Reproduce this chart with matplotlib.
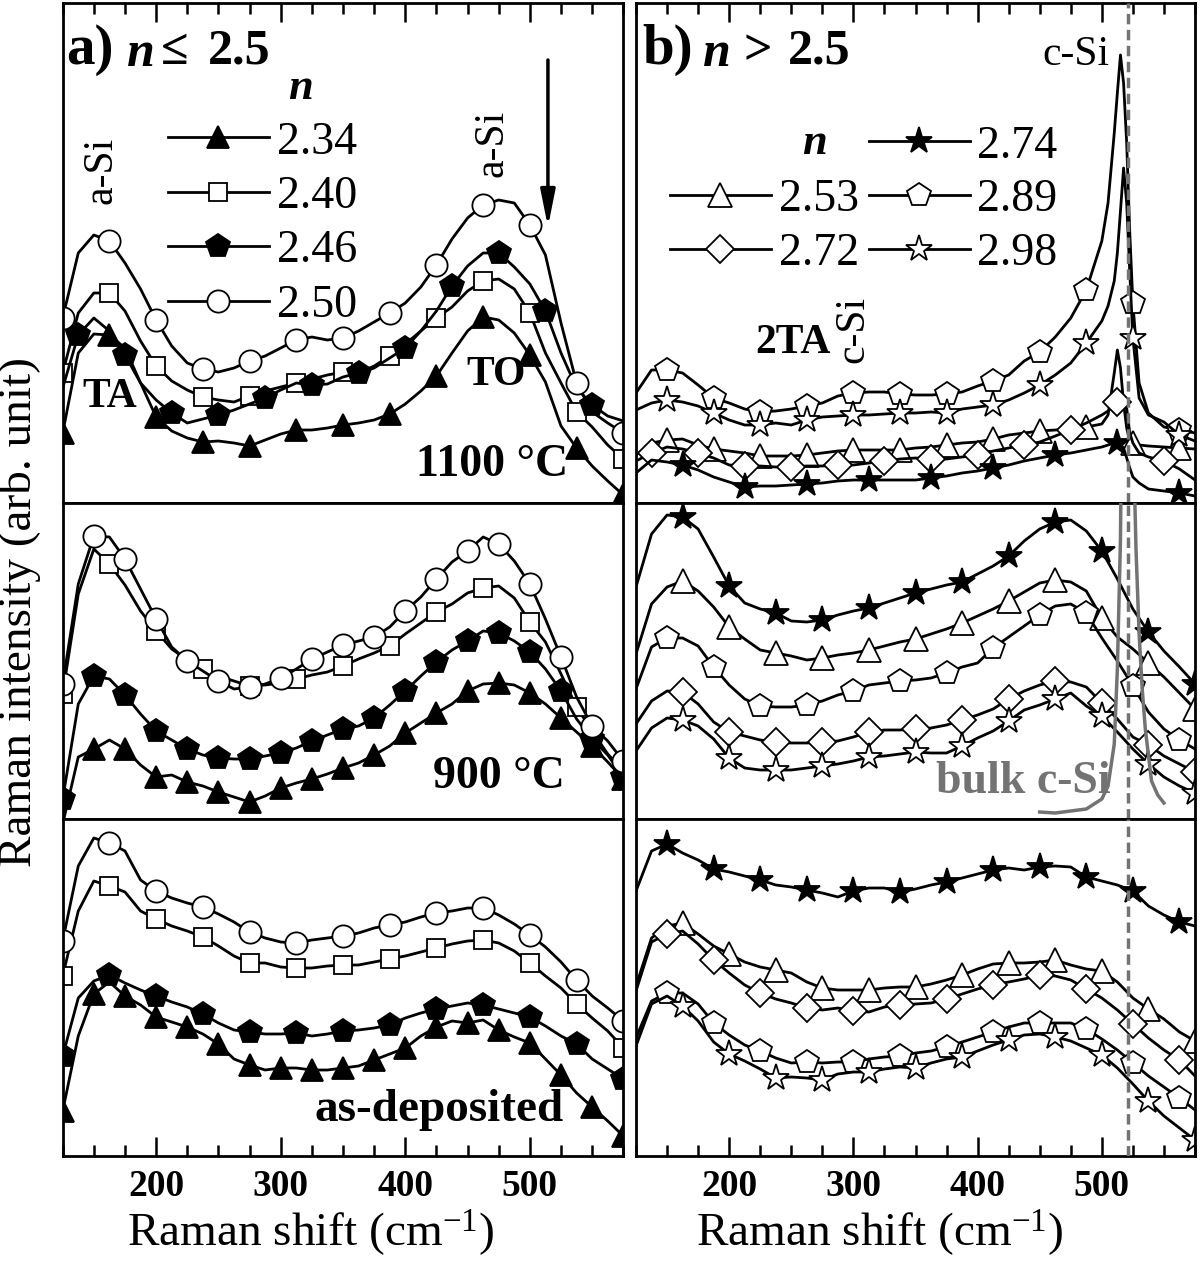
import numpy as np
import matplotlib
matplotlib.use("Agg")
import matplotlib.pyplot as plt
from matplotlib.ticker import MultipleLocator
from matplotlib.lines import Line2D

plt.rcParams['font.family'] = ['Liberation Serif', 'DejaVu Serif']
plt.rcParams['mathtext.fontset'] = 'custom'
plt.rcParams['mathtext.rm'] = 'Liberation Serif'
plt.rcParams['mathtext.it'] = 'Liberation Serif:italic'
plt.rcParams['mathtext.bf'] = 'Liberation Serif:bold'

W, H = 1200, 1268

# Raman shift grid (cm-1)
shift = np.arange(125, 576, 12.5)
# finer sampling around the c-Si peak for the top right panel
shift_peak = list(np.arange(125, 501, 12.5)) + [505, 510, 512.5, 515, 517.5, 520, 522.5,
                                                525, 530, 537.5, 550, 562.5, 575]

# ---- a) n <= 2.5, 1100 C
a1100_234 = [70, 150, 169, 168, 155, 120, 86, 72, 65, 61, 62, 60, 57, 63, 69, 73, 73, 75, 78, 80,
             83, 89, 99, 112, 127, 150, 172, 186, 183, 170, 148, 121, 77, 55, 37, 22, 8]
a1100_240 = [130, 190, 210, 210, 192, 162, 137, 122, 113, 106, 103, 101, 107, 112, 116, 120, 124, 128, 131, 130,
             137, 147, 159, 172, 185, 196, 212, 222, 224, 214, 190, 150, 120, 91, 76, 58, 44]
a1100_246 = [115, 168, 185, 172, 148, 120, 103, 90, 80, 84, 88, 93, 99, 105, 113, 120, 118, 119, 126, 130,
             135, 145, 155, 172, 192, 217, 237, 250, 250, 236, 219, 192, 150, 115, 98, 87, 82]
a1100_250 = [185, 250, 268, 262, 240, 214, 183, 157, 140, 134, 131, 135, 142, 147, 155, 163, 166, 163, 165, 172,
             181, 190, 200, 216, 238, 264, 285, 298, 303, 300, 278, 248, 180, 120, 91, 80, 70]
# ---- a) 900 C
a900_234 = [-5, 62, 70, 79, 70, 54, 42, 44, 37, 33, 27, 22, 17, 23, 31, 36, 40, 45, 51, 56,
            64, 73, 86, 96, 106, 115, 128, 135, 136, 134, 126, 115, 101, 87, 73, 57, 40]
a900_240 = [125, 225, 270, 255, 234, 208, 188, 170, 159, 150, 143, 138, 133, 134, 136, 140, 144, 147, 153, 160,
            166, 173, 185, 196, 207, 215, 226, 231, 233, 221, 197, 177, 145, 112, 88, 65, 48]
a900_246 = [20, 115, 143, 140, 124, 105, 88, 79, 70, 64, 61, 60, 60, 63, 66, 71, 78, 84, 90, 93,
            101, 114, 128, 143, 157, 169, 178, 188, 186, 178, 167, 150, 128, 100, 80, 64, 42]
a900_250 = [135, 235, 283, 282, 260, 230, 200, 172, 158, 148, 138, 130, 132, 135, 141, 150, 160, 167, 174, 178,
            182, 192, 208, 222, 240, 257, 268, 282, 275, 258, 235, 200, 162, 122, 93, 78, 58]
# ---- a) as-deposited
adep_234 = [45, 120, 162, 174, 160, 151, 139, 134, 129, 122, 112, 97, 91, 86, 88, 88, 86, 86, 88, 90,
            96, 102, 108, 120, 129, 135, 133, 136, 126, 119, 113, 97, 81, 63, 49, 35, 20]
adep_240 = [180, 245, 275, 270, 264, 245, 237, 230, 225, 219, 210, 200, 193, 193, 189, 188, 188, 190, 191, 191,
            194, 197, 200, 204, 208, 212, 215, 216, 213, 205, 193, 180, 168, 152, 138, 125, 108]
adep_246 = [100, 158, 175, 181, 173, 166, 160, 154, 149, 142, 133, 126, 124, 122, 122, 123, 120, 122, 125, 126,
            128, 131, 138, 143, 147, 150, 153, 151, 147, 143, 139, 130, 120, 112, 97, 87, 77]
adep_250 = [215, 290, 318, 313, 305, 276, 265, 258, 253, 249, 242, 234, 224, 218, 214, 213, 216, 218, 220, 223,
            228, 231, 234, 239, 243, 245, 248, 248, 241, 232, 221, 209, 194, 176, 160, 148, 135]

# ---- b) n > 2.5, 1100 C (on shift_peak grid)
b1100_253 = [48, 60, 63, 64, 58, 54, 52, 50, 47, 47, 47, 48, 50, 52, 53, 53, 53, 53, 55, 56,
             58, 60, 61, 64, 68, 70, 72, 73, 74, 76, 79,
             88, 130, 153, 135, 100, 75, 62, 60, 58, 57, 56, 55, 54]
b1100_272 = [42, 50, 56, 54, 50, 45, 38, 37, 37, 36, 36, 37, 37, 38, 38, 40, 42, 44, 45, 44,
             44, 46, 48, 52, 55, 58, 61, 67, 73, 80, 88,
             92, 98, 101, 104, 104, 95, 70, 60, 50, 46, 42, 34, 23]
b1100_274 = [30, 43, 41, 38, 33, 26, 21, 16, 17, 17, 18, 19, 20, 22, 23, 23, 23, 23, 23, 25,
             27, 30, 32, 35, 38, 42, 45, 48, 50, 53, 56,
             58, 60, 60, 58, 55, 45, 35, 26, 20, 14, 12, 10, 7]
b1100_289 = [110, 133, 133, 130, 118, 105, 100, 94, 91, 92, 94, 97, 100, 107, 110, 111, 111, 109, 108, 108,
             109, 111, 117, 122, 128, 142, 151, 166, 185, 213, 262,
             300, 370, 410, 448, 420, 360, 270, 200, 120, 90, 76, 73, 70]
b1100_298 = [93, 100, 103, 101, 97, 90, 83, 78, 78, 80, 78, 83, 86, 87, 88, 88, 89, 90, 90, 91,
             90, 94, 96, 98, 103, 110, 118, 128, 140, 160, 182,
             197, 222, 250, 292, 335, 300, 230, 165, 105, 88, 81, 68, 62]
# ---- b) 900 C
b900_253 = [165, 215, 232, 238, 228, 212, 192, 180, 169, 166, 163, 159, 161, 164, 166, 169, 173, 177, 180, 185,
            190, 196, 203, 210, 218, 227, 236, 239, 237, 228, 201, 182, 170, 156, 142, 126, 110]
b900_272 = [95, 118, 128, 127, 115, 97, 87, 83, 79, 77, 76, 76, 77, 78, 82, 87, 89, 89, 90, 91,
            94, 99, 104, 110, 120, 128, 134, 138, 137, 132, 116, 100, 82, 74, 63, 55, 47]
b900_274 = [232, 285, 304, 302, 290, 262, 233, 216, 210, 206, 198, 197, 199, 204, 208, 211, 216, 221, 226, 230,
            234, 237, 245, 253, 263, 278, 290, 297, 299, 288, 268, 240, 210, 187, 168, 152, 135]
b900_289 = [130, 172, 181, 181, 173, 152, 134, 120, 113, 112, 112, 114, 118, 124, 128, 134, 136, 138, 139, 141,
            146, 152, 156, 171, 182, 193, 204, 213, 215, 206, 181, 158, 133, 107, 90, 79, 70]
b900_298 = [68, 91, 101, 99, 93, 80, 61, 51, 49, 49, 49, 51, 53, 55, 58, 62, 63, 65, 67, 66,
            66, 73, 81, 88, 98, 109, 114, 120, 126, 113, 103, 87, 70, 55, 42, 33, 26]
# bulk c-Si reference spectrum
bulk_shift = [450, 462.5, 475, 487.5, 500, 505, 510, 512.5, 515, 517.5, 520, 522.5, 525, 527.5,
              530, 532.5, 535, 540, 545, 550]
bulk_int = [7, 6, 8, 10, 20, 33, 75, 150, 280, 600, 900, 700, 400, 270, 185, 130, 90, 38, 24, 16]
# ---- b) as-deposited
bdep_253 = [170, 218, 230, 233, 222, 210, 202, 194, 189, 186, 183, 174, 168, 166, 166, 166, 168, 169, 169, 172,
            176, 181, 187, 192, 193, 193, 194, 196, 191, 187, 185, 174, 158, 147, 137, 124, 115]
bdep_272 = [165, 214, 222, 225, 212, 196, 183, 171, 163, 157, 153, 148, 146, 148, 145, 144, 149, 151, 152, 153,
            157, 162, 167, 171, 174, 177, 181, 180, 176, 167, 158, 146, 132, 118, 106, 96, 80]
bdep_274 = [265, 305, 312, 303, 296, 287, 284, 280, 276, 271, 269, 266, 263, 259, 265, 268, 268, 264, 267, 271,
            274, 278, 282, 286, 288, 286, 289, 290, 289, 279, 275, 271, 265, 250, 241, 234, 230]
bdep_289 = [118, 155, 163, 163, 152, 133, 121, 111, 105, 98, 93, 94, 93, 94, 94, 97, 99, 100, 103, 105,
            109, 114, 119, 124, 129, 133, 133, 133, 133, 127, 117, 106, 93, 80, 69, 58, 46]
bdep_298 = [110, 152, 160, 150, 135, 114, 102, 95, 87, 78, 79, 78, 76, 82, 84, 84, 87, 89, 88, 93,
            97, 99, 105, 111, 116, 121, 122, 119, 115, 108, 101, 88, 72, 55, 40, 28, 16]

c_si_line = 521
ylim_top, ylim_mid, ylim_bot = 500, 316, 337

# marker, face colour, size for each refractive index
style = {
    '2.34': ('^', 'k', 16), '2.40': ('s', 'w', 13.5), '2.46': ('p', 'k', 17.5), '2.50': ('o', 'w', 16),
    '2.53': ('^', 'w', 17), '2.72': ('D', 'w', 14), '2.74': ('*', 'k', 20), '2.89': ('p', 'w', 18),
    '2.98': ('*', 'w', 20),
}


def marks(xs, first, step):
    return [i for i, x in enumerate(xs) if x >= first and ((x - first) / 12.5) % step == 0]


def draw(ax, xs, ys, n, first=125, step=3):
    m, fc, ms = style[n]
    line, = ax.plot(xs, ys, color='k', lw=2.0, marker=m, ms=ms, mfc=fc, mec='k', mew=1.3,
                    markevery=marks(xs, first, step), label=n)
    return line


def ftext(px, py, s, **kw):
    fig.text(px / W, 1 - py / H, s, **kw)


fig = plt.figure(figsize=(12, 12.68), dpi=100)

lx, lw_ = 62.7 / W, 560.6 / W
rx, rw_ = 636 / W, 559 / W
rows = [((H - 503) / H, 500 / H), ((H - 819) / H, 316 / H), ((H - 1156) / H, 337 / H)]
axes = {}
for col, (x0, w0) in (('a', (lx, lw_)), ('b', (rx, rw_))):
    for r, (y0, h0) in enumerate(rows):
        axes[col, r] = fig.add_axes([x0, y0, w0, h0])

for (col, r), ax in axes.items():
    ax.set_xlim(125, 575)
    ax.set_ylim(0, (ylim_top, ylim_mid, ylim_bot)[r])
    ax.xaxis.set_major_locator(MultipleLocator(100))
    ax.xaxis.set_minor_locator(MultipleLocator(25))
    ax.tick_params(axis='x', which='both', direction='in', width=1.8,
                   bottom=(r == 2), top=(r == 0), labelbottom=(r == 2), labeltop=False)
    ax.tick_params(axis='x', which='major', length=14, pad=9, labelsize=27)
    ax.tick_params(axis='x', which='minor', length=8)
    ax.tick_params(axis='y', left=False, labelleft=False)
    for sp in ax.spines.values():
        sp.set_linewidth(2)
    for lab in ax.get_xticklabels():
        lab.set_fontweight('bold')
    if r == 2:
        ax.set_xlabel('Raman shift (cm$^{-1}$)', fontsize=34)
        ax.xaxis.set_label_coords(0.443 if col == 'a' else 0.4365, -0.152)
    if col == 'b':
        ax.axvline(c_si_line, color='0.45', lw=2.5, dashes=(3, 1.6), zorder=5)

# ---- panel a
ax = axes['a', 0]
h234 = draw(ax, shift, a1100_234, '2.34', 125, 3)
h240 = draw(ax, shift, a1100_240, '2.40', 125, 3)
h246 = draw(ax, shift, a1100_246, '2.46', 137.5, 3)
h250 = draw(ax, shift, a1100_250, '2.50', 125, 3)
ax.legend([h234, h240, h246, h250], ['2.34', '2.40', '2.46', '2.50'], loc='upper left',
          bbox_to_anchor=(168 / W, 1 - 121 / H), bbox_transform=fig.transFigure, frameon=False,
          fontsize=33, handlelength=2.2, handletextpad=0.17, labelspacing=0.26, borderpad=0,
          borderaxespad=0, numpoints=1)
ax.annotate('', xy=(514.5, 276), xytext=(514.5, 443),
            arrowprops=dict(arrowstyle='-|>,head_length=1.1,head_width=0.22', color='k', lw=2.5,
                            mutation_scale=20, shrinkA=0, shrinkB=0))

ax = axes['a', 1]
draw(ax, shift, a900_234, '2.34', 150, 2)
draw(ax, shift, a900_240, '2.40', 125, 3)
draw(ax, shift, a900_246, '2.46', 125, 2)
draw(ax, shift, a900_250, '2.50', 125, 2)

ax = axes['a', 2]
draw(ax, shift, adep_234, '2.34', 125, 2)
draw(ax, shift, adep_240, '2.40', 125, 3)
draw(ax, shift, adep_246, '2.46', 125, 3)
draw(ax, shift, adep_250, '2.50', 125, 3)

# ---- panel b
ax = axes['b', 0]
k253 = draw(ax, shift_peak, b1100_253, '2.53', 150, 3)
k272 = draw(ax, shift_peak, b1100_272, '2.72', 137.5, 3)
k274 = draw(ax, shift_peak, b1100_274, '2.74', 162.5, 4)
k289 = draw(ax, shift_peak, b1100_289, '2.89', 150, 3)
k298 = draw(ax, shift_peak, b1100_298, '2.98', 150, 3)
blank = Line2D([], [], color='none')
ax.legend([blank, k253, k272, k274, k289, k298], ['', '2.53', '2.72', '2.74', '2.89', '2.98'],
          ncol=2, loc='upper left', bbox_to_anchor=(670 / W, 1 - 125 / H),
          bbox_transform=fig.transFigure, frameon=False, fontsize=33, handlelength=2.2,
          handletextpad=0.17, labelspacing=0.25, columnspacing=0.22, borderpad=0,
          borderaxespad=0, numpoints=1)

ax = axes['b', 1]
draw(ax, shift, b900_274, '2.74', 162.5, 3)
draw(ax, shift, b900_253, '2.53', 162.5, 3)
draw(ax, shift, b900_289, '2.89', 150, 3)
draw(ax, shift, b900_272, '2.72', 162.5, 3)
draw(ax, shift, b900_298, '2.98', 162.5, 3)
ax.plot(bulk_shift, bulk_int, color='0.45', lw=2.5, zorder=4)

ax = axes['b', 2]
draw(ax, shift, bdep_274, '2.74', 150, 3)
draw(ax, shift, bdep_253, '2.53', 162.5, 3)
draw(ax, shift, bdep_272, '2.72', 150, 3)
draw(ax, shift, bdep_289, '2.89', 150, 3)
draw(ax, shift, bdep_298, '2.98', 162.5, 3)

# ---- texts
bold = dict(fontweight='bold')
bi = dict(fontweight='bold', fontstyle='italic')
ftext(66, 50, 'a)', fontsize=41, va='center', ha='left', **bold)
ftext(127, 54, 'n', fontsize=36, va='center', ha='left', **bi)
ftext(161, 52, '≤', fontsize=36, va='center', ha='left', **bold)
ftext(208, 52, '2.5', fontsize=36, va='center', ha='left', **bold)
ftext(300, 88, 'n', fontsize=32, va='center', ha='center', **bi)
ftext(101, 170, 'a-Si', fontsize=30, rotation=90, va='center', ha='center')
ftext(492, 143, 'a-Si', fontsize=30, rotation=90, va='center', ha='center')
ftext(110, 397, 'TA', fontsize=30, va='center', ha='center', **bold)
ftext(496, 375, 'TO', fontsize=30, va='center', ha='center', **bold)
ftext(492, 465, '1100 °C', fontsize=33, va='center', ha='center', **bold)
ftext(499, 777, '900 °C', fontsize=33, va='center', ha='center', **bold)
ftext(439, 1110, 'as-deposited', fontsize=34, va='center', ha='center', **bold)

ftext(642, 50, 'b)', fontsize=41, va='center', ha='left', **bold)
ftext(703, 54, 'n', fontsize=36, va='center', ha='left', **bi)
ftext(744, 52, '>', fontsize=36, va='center', ha='left', **bold)
ftext(788, 52, '2.5', fontsize=36, va='center', ha='left', **bold)
ftext(814, 143, 'n', fontsize=32, va='center', ha='center', **bi)
ftext(1076, 55, 'c-Si', fontsize=30, va='center', ha='center')
ftext(793, 343, '2TA', fontsize=30, va='center', ha='center', **bold)
ftext(853, 330, 'c-Si', fontsize=30, rotation=90, va='center', ha='center')
ftext(1023, 782, 'bulk c-Si', fontsize=33, va='center', ha='center', color='0.45', **bold)

ftext(20, 612, 'Raman intensity (arb. unit)', fontsize=34, rotation=90, va='center', ha='center')

fig.savefig('out.png', dpi=100, facecolor='white')
